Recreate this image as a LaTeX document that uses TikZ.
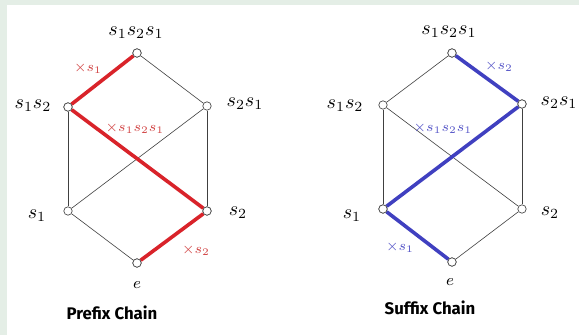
\documentclass[tikz,border=0pt]{standalone}
\usepackage{fontspec}
\newfontfamily\titlefont{Fira Sans}
\definecolor{bgstrip}{HTML}{E4EEE6}
\definecolor{chainred}{HTML}{D9232A}
\definecolor{labred}{HTML}{D24444}
\definecolor{chainblue}{HTML}{4040C0}
\definecolor{labblue}{HTML}{5555C8}
\begin{document}
\begin{tikzpicture}[x=0.5pt,y=-0.5pt,
  vtx/.style={circle,draw=black!70,fill=white,line width=0.35pt,inner sep=0pt,minimum size=4.2pt},
  thin/.style={draw=black!75,line width=0.3pt},
  redch/.style={draw=chainred,line width=1.8pt},
  bluech/.style={draw=chainblue,line width=1.8pt},
  lab/.style={inner sep=0pt,font=\normalsize},
  rlab/.style={inner sep=0pt,text=labred,font=\scriptsize},
  blab/.style={inner sep=0pt,text=labblue,font=\scriptsize},
  ttl/.style={inner sep=0pt,font=\titlefont\bfseries\fontsize{8.4}{9}\selectfont}]
\useasboundingbox (0,0) rectangle (579,335);
\fill[white] (0,0) rectangle (579,335);
\fill[bgstrip] (0,0) rectangle (7,335);
\fill[bgstrip] (0,0) rectangle (579,5);
% ---- Prefix chain
\node[vtx] (Ltop) at (137,53) {};
\node[vtx] (Lab) at (68,107) {};
\node[vtx] (Lba) at (207,106) {};
\node[vtx] (La) at (68,211) {};
\node[vtx] (Lb) at (207,211) {};
\node[vtx] (Le) at (137,263) {};
\draw[thin] (Ltop) -- (Lba);
\draw[thin] (Lab) -- (La);
\draw[thin] (Lba) -- (Lb);
\draw[thin] (La) -- (Lba);
\draw[thin] (La) -- (Le);
\draw[redch] (Ltop) -- (Lab);
\draw[redch] (Lab) -- (Lb);
\draw[redch] (Lb) -- (Le);
\node[vtx] at (Ltop) {};
\node[vtx] at (Lab) {};
\node[vtx] at (Lb) {};
\node[vtx] at (Le) {};
\node[lab] (Ltopl) at (136,33) {$s_1s_2s_1$};
\node[lab] (Labl) at (33,106) {$s_1s_2$};
\node[lab] (Lbal) at (245,104) {$s_2s_1$};
\node[lab] (Lal) at (37,216) {$s_1$};
\node[lab] (Lbl) at (238,213) {$s_2$};
\node[lab,font=\footnotesize] (Lel) at (137,285) {$e$};
\node[rlab] (Lr1) at (88,68) {$\times s_1$};
\node[rlab] (Lr2) at (135,128) {$\times s_1s_2s_1$};
\node[rlab] (Lr3) at (196,250) {$\times s_2$};
\node[ttl] (Lt) at (112,313) {Prefix Chain};
% ---- Suffix chain
\node[vtx] (Rtop) at (452,53) {};
\node[vtx] (Rab) at (383,105) {};
\node[vtx] (Rba) at (522,104) {};
\node[vtx] (Ra) at (383,209) {};
\node[vtx] (Rb) at (522,209) {};
\node[vtx] (Re) at (452,262) {};
\draw[thin] (Rtop) -- (Rab);
\draw[thin] (Rab) -- (Ra);
\draw[thin] (Rba) -- (Rb);
\draw[thin] (Rab) -- (Rb);
\draw[thin] (Rb) -- (Re);
\draw[bluech] (Rtop) -- (Rba);
\draw[bluech] (Rba) -- (Ra);
\draw[bluech] (Ra) -- (Re);
\node[vtx] at (Rtop) {};
\node[vtx] at (Rba) {};
\node[vtx] at (Ra) {};
\node[vtx] at (Re) {};
\node[lab] (Rtopl) at (449,32) {$s_1s_2s_1$};
\node[lab] (Rabl) at (345,106) {$s_1s_2$};
\node[lab] (Rbal) at (559,103) {$s_2s_1$};
\node[lab] (Ral) at (352,216) {$s_1$};
\node[lab] (Rbl) at (550,213) {$s_2$};
\node[lab,font=\footnotesize] (Rel) at (450,282) {$e$};
\node[blab] (Rb1) at (499,66) {$\times s_2$};
\node[blab] (Rb2) at (443,128) {$\times s_1s_2s_1$};
\node[blab] (Rb3) at (400,247) {$\times s_1$};
\node[ttl] (Rt) at (430,308) {Suffix Chain};
\end{tikzpicture}
\end{document}
